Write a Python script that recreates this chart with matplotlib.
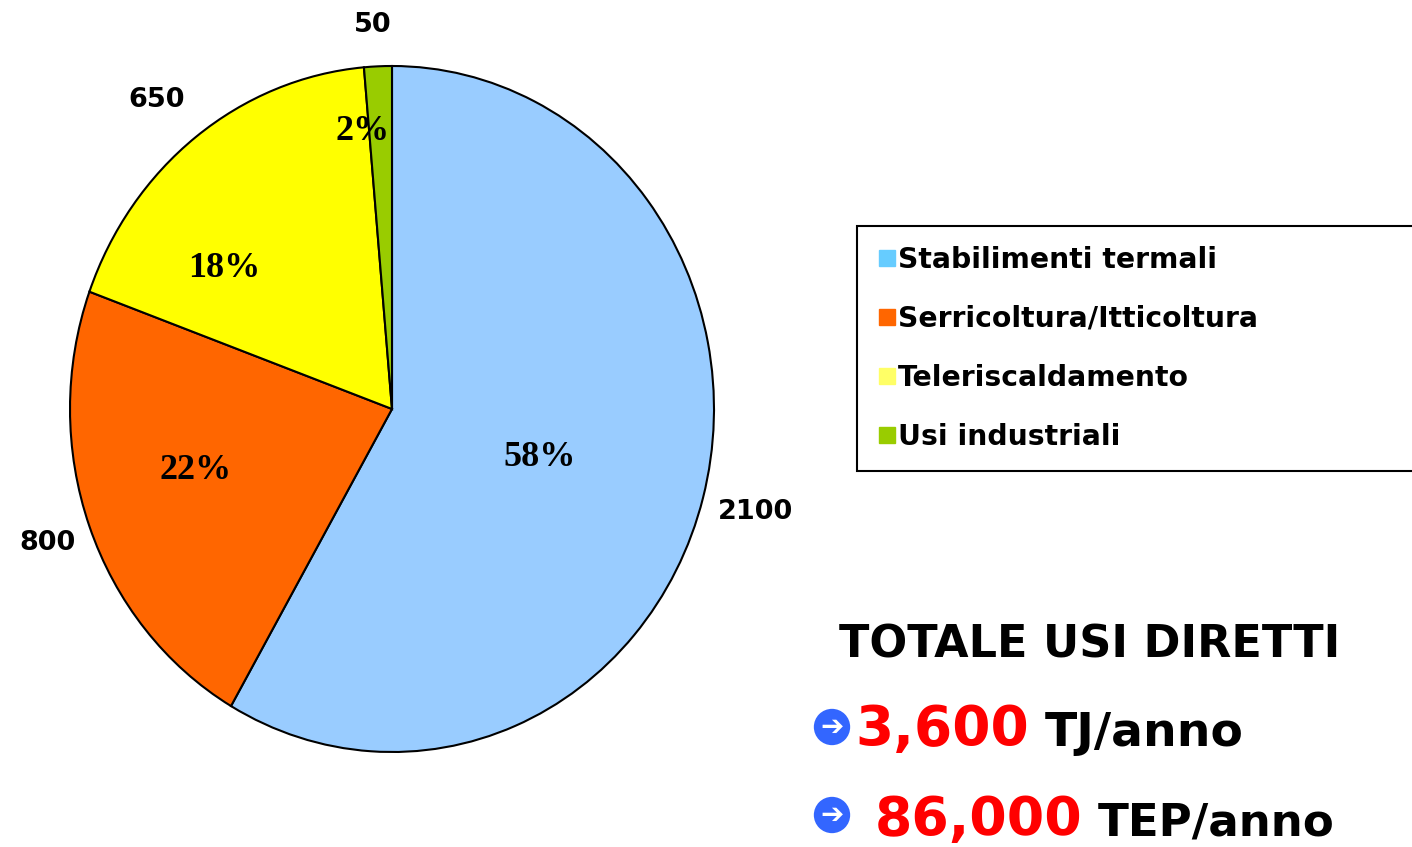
import matplotlib.pyplot as plt
from matplotlib.lines import Line2D

categories = ["Stabilimenti termali", "Serricoltura/Itticoltura",
              "Teleriscaldamento", "Usi industriali"]
values = [2100, 800, 650, 50]
pct_labels = ["58%", "22%", "18%", "2%"]
colors = ["#99CCFF", "#FF6600", "#FFFF00", "#99CC00"]
legend_colors = ["#66CCFF", "#FF6600", "#FFFF66", "#99CC00"]

# label placement (x, y in pie radius units), Excel puts them oddly
pct_pos = [(0.46, -0.14), (-0.61, -0.18), (-0.52, 0.41), (-0.09, 0.81)]
val_pos = [(1.13, -0.30), (-1.07, -0.39), (-0.73, 0.90), (-0.06, 1.12)]

fig = plt.figure(figsize=(14.12, 8.47), dpi=100)
W, H = 1412, 847

# pie is slightly taller than wide in the original
ax = fig.add_axes([70 / W, (H - 752) / H, 644 / W, 686 / H])
wedges, _ = ax.pie(values, colors=colors, startangle=90, counterclock=False,
                   wedgeprops=dict(edgecolor="black", linewidth=1.5))
ax.set_aspect("auto")
ax.set_xlim(-1, 1)
ax.set_ylim(-1, 1)
ax.axis("off")

for v, lab, (px, py), (vx, vy) in zip(values, pct_labels, pct_pos, val_pos):
    ax.text(px, py, lab, ha="center", va="center",
            family="Liberation Serif", weight="bold", fontsize=26)
    ax.text(vx, vy, f"{v}", ha="center", va="center",
            family="DejaVu Sans", weight="bold", fontsize=19.5)

handles = [Line2D([], [], marker="s", linestyle="none", markersize=12,
                  markerfacecolor=c, markeredgecolor=c) for c in legend_colors]
leg = fig.legend(handles, categories, loc="upper left",
                 bbox_to_anchor=(857 / W, (H - 227) / H, 620 / W, 0.001),
                 mode="expand", borderaxespad=0, fancybox=False,
                 edgecolor="black", framealpha=1, handletextpad=0.0,
                 handlelength=0.75, labelspacing=1.1, borderpad=0.7,
                 prop=dict(family="DejaVu Sans", weight="bold", size=20.3))
leg.get_frame().set_linewidth(1.5)

fig.text(1090 / W, 1 - 645 / H, "TOTALE USI DIRETTI", ha="center", va="center",
         family="DejaVu Sans", weight="bold", fontsize=32)

arrow_kw = dict(ha="center", va="center", family="DejaVu Sans", weight="bold",
                fontsize=20, color="white",
                bbox=dict(boxstyle="circle,pad=0.15", fc="#3366FF", ec="none"))
fig.text(832 / W, 1 - 727 / H, "\u2794", **arrow_kw)
fig.text(832 / W, 1 - 815 / H, "\u2794", **arrow_kw)

fig.text(855 / W, 1 - 730 / H, "3,600", va="center", family="DejaVu Sans",
         weight="bold", fontsize=39.5, color="#FF0000")
fig.text(1045 / W, 1 - 733 / H, "TJ/anno", va="center", family="DejaVu Sans",
         weight="bold", fontsize=34)
fig.text(875 / W, 1 - 820 / H, "86,000", va="center", family="DejaVu Sans",
         weight="bold", fontsize=38.7, color="#FF0000")
fig.text(1098 / W, 1 - 823 / H, "TEP/anno", va="center", family="DejaVu Sans",
         weight="bold", fontsize=32.5)

fig.savefig("out.png", dpi=100, facecolor="white")
